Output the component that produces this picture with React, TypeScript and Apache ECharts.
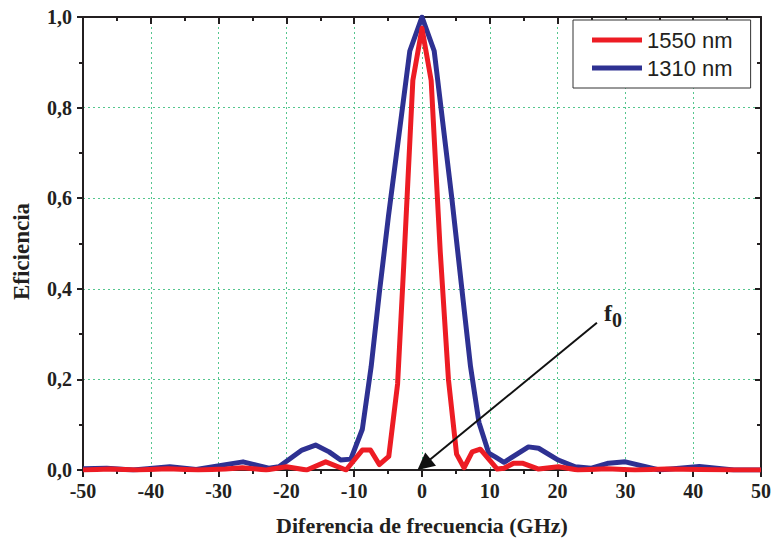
import { useEffect, useRef } from 'react';
import * as echarts from 'echarts';

// 1550 nm curve (frequency difference in GHz, efficiency)
const freq1550 = [-50, -46, -42, -37.5, -33, -29, -26.5, -23, -20, -17, -14.2, -11.2, -8.8, -7.6, -6.3, -4.9, -3.6, -2.7, -1.35, 0, 1.35, 2.7, 3.9, 5.1, 6.2, 7.4, 8.6, 11.1, 12.1, 13.5, 14.8, 17.2, 20.1, 23, 27.3, 31.4, 36, 41, 46, 50];
const eff1550 = [0.0, 0.002, 0.0, 0.003, 0.0, 0.002, 0.005, 0.0, 0.007, 0.0, 0.018, 0.0, 0.044, 0.044, 0.012, 0.03, 0.19, 0.45, 0.86, 0.975, 0.86, 0.48, 0.2, 0.035, 0.005, 0.04, 0.046, 0.002, 0.004, 0.015, 0.015, 0.002, 0.007, 0.0, 0.003, 0.0, 0.002, 0.001, 0.0, 0.0];

// 1310 nm curve
const freq1310 = [-50, -46.5, -42.6, -37.2, -33.3, -28.5, -26.4, -22.6, -21.1, -17.7, -15.7, -13.7, -12, -10.5, -8.8, -7.5, -6.3, -4.95, -1.8, 0, 1.8, 4.4, 5.9, 7.16, 8.4, 9.85, 10.8, 12.1, 15.7, 17.2, 20.1, 22.6, 25, 27.5, 30, 35, 40.9, 46, 50];
const eff1310 = [0.003, 0.004, 0.0, 0.007, 0.001, 0.013, 0.018, 0.004, 0.007, 0.044, 0.055, 0.04, 0.022, 0.024, 0.09, 0.228, 0.39, 0.56, 0.925, 1.0, 0.925, 0.6, 0.397, 0.228, 0.105, 0.037, 0.029, 0.017, 0.051, 0.048, 0.022, 0.007, 0.004, 0.015, 0.018, 0.0, 0.008, 0.0, 0.0];

const seriesNames = ['1550 nm', '1310 nm'];
const seriesColors = ['#ed1c24', '#2e3192'];

// annotation arrow: start and tip (data coords)
const arrowStart = [25.8, 0.325];
const arrowTip = [0.3, 0.012];

const xTitle = 'Diferencia de frecuencia (GHz)';
const yTitle = 'Eficiencia';

const serif = '"Liberation Serif", "Times New Roman", serif';
const axisColor = '#231f20';

export default function App() {
  const ref = useRef<HTMLDivElement>(null);
  useEffect(() => {
    if (!ref.current) return;
    const chart = echarts.init(ref.current, undefined, { renderer: 'svg' });
    const labelStyle = { fontFamily: serif, fontWeight: 'bold' as const, fontSize: 20, color: axisColor };
    const gridLine = { show: true, lineStyle: { color: '#55c68e', type: [2, 3] as any, width: 1 } };
    const baseX = {
      type: 'value' as const, min: -50, max: 50, interval: 10,
      axisLine: { show: true, onZero: false, lineStyle: { color: axisColor, width: 2 } },
    };
    const baseY = {
      type: 'value' as const, min: 0, max: 1, interval: 0.2,
      axisLine: { show: true, onZero: false, lineStyle: { color: axisColor, width: 2 } },
    };
    chart.setOption({
      animation: false,
      backgroundColor: '#ffffff',
      grid: { left: 83, right: 10, top: 17, bottom: 73, outerBoundsMode: 'none', containLabel: false },
      legend: {
        data: seriesNames,
        orient: 'vertical',
        left: 573, top: 20,
        padding: [9, 18, 9, 19],
        itemWidth: 50, itemHeight: 5, itemGap: 6,
        icon: 'rect',
        backgroundColor: '#ffffff',
        borderColor: '#333333', borderWidth: 1, borderRadius: 0,
        textStyle: { fontFamily: '"Liberation Sans", Arial, sans-serif', fontSize: 22, color: '#231f20', lineHeight: 22 },
      },
      xAxis: [
        {
          ...baseX, position: 'bottom',
          name: xTitle, nameLocation: 'middle', nameGap: 44,
          nameTextStyle: { fontFamily: serif, fontWeight: 'bold', fontSize: 22, color: axisColor },
          axisTick: { show: true, inside: false, length: 7, lineStyle: { color: axisColor, width: 2 } },
          minorTick: { show: true, splitNumber: 2, length: 4, lineStyle: { color: axisColor, width: 2 } },
          axisLabel: { ...labelStyle, margin: 11, formatter: (v: number) => String(v) },
          splitLine: gridLine,
        },
        {
          ...baseX, position: 'top',
          axisTick: { show: true, inside: true, length: 7, lineStyle: { color: axisColor, width: 2 } },
          minorTick: { show: true, splitNumber: 2, length: 4, lineStyle: { color: axisColor, width: 2 } },
          axisLabel: { show: false },
          splitLine: { show: false },
        },
      ],
      yAxis: [
        {
          ...baseY, position: 'left',
          name: yTitle, nameLocation: 'middle', nameGap: 50, nameRotate: 90,
          nameTextStyle: { fontFamily: serif, fontWeight: 'bold', fontSize: 23, color: axisColor, padding: [0, 16, 0, 0] },
          axisTick: { show: true, inside: false, length: 6, lineStyle: { color: axisColor, width: 2 } },
          minorTick: { show: true, splitNumber: 2, length: 4, lineStyle: { color: axisColor, width: 2 } },
          axisLabel: { ...labelStyle, margin: 11, formatter: (v: number) => v.toFixed(1).replace('.', ',') },
          splitLine: gridLine,
        },
        {
          ...baseY, position: 'right',
          axisTick: { show: true, inside: true, length: 6, lineStyle: { color: axisColor, width: 2 } },
          minorTick: { show: true, splitNumber: 2, length: 4, lineStyle: { color: axisColor, width: 2 } },
          axisLabel: { show: false },
          splitLine: { show: false },
        },
      ],
      series: [
        {
          name: seriesNames[1], type: 'line', xAxisIndex: 0, yAxisIndex: 0,
          data: freq1310.map((f, i) => [f, eff1310[i]]),
          showSymbol: false, symbol: 'none',
          lineStyle: { color: seriesColors[1], width: 5, join: 'round' },
          itemStyle: { color: seriesColors[1] },
          z: 2,
        },
        {
          name: seriesNames[0], type: 'line', xAxisIndex: 0, yAxisIndex: 0,
          data: freq1550.map((f, i) => [f, eff1550[i]]),
          showSymbol: false, symbol: 'none',
          lineStyle: { color: seriesColors[0], width: 5, join: 'round' },
          itemStyle: { color: seriesColors[0] },
          z: 3,
          markLine: {
            silent: true,
            symbol: ['none', 'triangle'],
            symbolSize: 17,
            itemStyle: { color: '#111111' },
            lineStyle: { color: '#111111', width: 2, type: 'solid' },
            label: { show: false },
            data: [[{ coord: arrowStart }, { coord: arrowTip }]],
          },
        },
      ],
      graphic: [
        { type: 'text', left: 604, top: 301, style: { text: 'f', font: `bold 24px ${serif}`, fill: '#231f20' } },
        { type: 'text', left: 612, top: 310, style: { text: '0', font: `bold 20px ${serif}`, fill: '#231f20' } },
      ],
    });
    return () => chart.dispose();
  }, []);
  return <div ref={ref} style={{ position: 'fixed', left: 0, top: 0, width: 771, height: 543, background: '#fff' }} />;
}
